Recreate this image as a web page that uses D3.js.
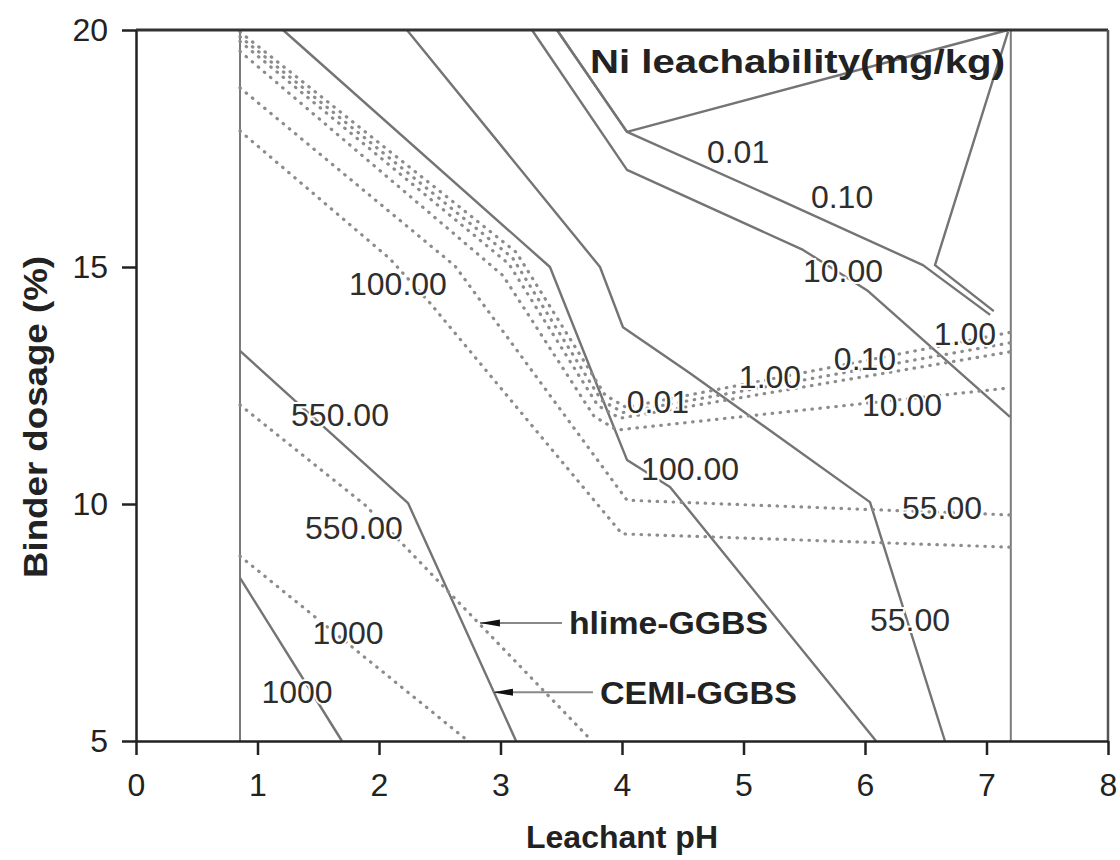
<!DOCTYPE html>
<html>
<head>
<meta charset="utf-8">
<script src="https://cdn.jsdelivr.net/npm/d3@7"></script>
<style>
body { margin: 0; background: #fff; }
svg { display: block; font-family: "Liberation Sans", Arial, sans-serif; }
</style>
</head>
<body>
<div class="js-vis"></div>
<script>
"use strict";

// pH limits of the tested range (vertical grey lines)
var phLimits = [0.856, 7.2];

// CEMI-GGBS contours (solid), points are [pH, binder %]
var cemi1000 = [[0.856, 8.44], [1.695, 5.0]];
var cemi550 = [[0.856, 13.23], [2.239, 10.02], [3.128, 5.0]];
var cemi100 = [[1.21, 20], [3.407, 15.0], [3.844, 12.19], [4.041, 10.93], [4.395, 10.36], [6.091, 5.0]];
var cemi55 = [[2.23, 20], [3.819, 15.0], [4.008, 13.73], [4.56, 12.76], [6.041, 10.04], [6.658, 5.0]];
var cemi10 = [[3.259, 20], [4.041, 17.05], [5.49, 15.36], [6.016, 14.51], [7.193, 11.84]];
var cemi001 = [[3.465, 20], [4.041, 17.85], [7.177, 20]];
var cemi010 = [[3.465, 20], [4.041, 17.85], [5.3, 16.41], [6.477, 15.04], [7.03, 13.99]];
var cemi1 = [[7.177, 19.96], [6.576, 15.04], [7.06, 14.07]];

// hlime-GGBS contours (dotted)
var hlime1000 = [[0.856, 8.90], [2.733, 5.0]];
var hlime550 = [[0.856, 12.09], [1.885, 9.98], [3.753, 5.0]];
var hlime100 = [[0.856, 17.87], [2.091, 15.17], [2.42, 14.24], [4.0, 9.37], [7.193, 9.09]];
var hlime55 = [[0.856, 18.78], [2.626, 15.02], [4.041, 10.08], [7.193, 9.77]];
var hlime10 = [[0.856, 19.55], [3.02, 14.82], [3.77, 11.85], [3.959, 11.56], [7.193, 12.45]];
var hlime001 = [[0.856, 19.76], [3.07, 15.06], [3.80, 12.08], [3.984, 11.81], [7.193, 13.21]];
var hlime010 = [[0.856, 19.86], [3.10, 15.19], [3.83, 12.19], [4.008, 11.93], [7.193, 13.40]];
var hlime1 = [[0.856, 19.96], [3.13, 15.31], [3.86, 12.30], [4.033, 12.04], [7.193, 13.62]];

// contour labels and where they sit [pH, binder %]
var cemiLabels = ["1000", "550.00", "100.00", "55.00", "10.00", "0.01", "0.10", "1.00"];
var cemiLabelPos = [[1.325, 6.05], [1.679, 11.88], [4.56, 10.74], [6.37, 7.57], [5.819, 14.92], [4.955, 17.43], [5.811, 16.48], [6.823, 13.59]];
var hlimeLabels = ["1000", "550.00", "100.00", "55.00", "10.00", "0.01", "1.00", "0.10"];
var hlimeLabelPos = [[1.745, 7.28], [1.794, 9.51], [2.156, 14.66], [6.634, 9.92], [6.305, 12.09], [4.296, 12.17], [5.218, 12.70], [6.0, 13.08]];

// series names with their arrows [from pH, to pH, binder %]
var seriesNames = ["hlime-GGBS", "CEMI-GGBS"];
var seriesArrows = [[3.506, 2.831, 7.49], [3.761, 2.938, 6.03]];

var xTicks = d3.range(0, 9),
    yTicks = [5, 10, 15, 20];

var cemiLines = [cemi1000, cemi550, cemi100, cemi55, cemi10, cemi001, cemi010, cemi1],
    hlimeLines = [hlime1000, hlime550, hlime100, hlime55, hlime10, hlime001, hlime010, hlime1];

var svg = d3.select(".js-vis").append("svg").attr("width", 1120).attr("height", 860);

var x = d3.scaleLinear().domain([0, 8]).range([136, 1108]);
var y = d3.scaleLinear().domain([5, 20]).range([741, 30]);

svg.append("defs").append("marker").attr("id", "arr").attr("viewBox", "0 0 20 8")
  .attr("refX", 0).attr("refY", 4).attr("markerUnits", "userSpaceOnUse")
  .attr("markerWidth", 20).attr("markerHeight", 8)
  .attr("orient", "auto")
  .append("path").attr("d", "M20,1L0,4L20,7z").attr("fill", "#111");

// test range boundaries
svg.append("g").selectAll("line").data(phLimits).enter().append("line")
  .attr("x1", function (d) { return x(d); }).attr("x2", function (d) { return x(d); })
  .attr("y1", y(20)).attr("y2", y(5))
  .attr("stroke", "#7a7a7a").attr("stroke-width", 2);

var line = d3.line().x(function (d) { return x(d[0]); }).y(function (d) { return y(d[1]); });

svg.append("g").selectAll("path").data(cemiLines).enter().append("path")
  .attr("d", line).attr("fill", "none")
  .attr("stroke", "#747474").attr("stroke-width", 2.4).attr("stroke-linejoin", "round");

svg.append("g").selectAll("path").data(hlimeLines).enter().append("path")
  .attr("d", line).attr("fill", "none")
  .attr("stroke", "#8c8c8c").attr("stroke-width", 3.2).attr("stroke-linecap", "round")
  .attr("stroke-dasharray", "0.5,7.5");

// contour labels
function drawLabels(names, pos) {
  svg.append("g").selectAll("text").data(names).enter().append("text")
    .attr("x", function (d, i) { return x(pos[i][0]); })
    .attr("y", function (d, i) { return y(pos[i][1]); })
    .attr("dy", "0.36em").attr("text-anchor", "middle")
    .attr("font-size", 32).attr("fill", "#2e2e2e")
    .attr("stroke", "#fff").attr("stroke-width", 4).attr("paint-order", "stroke")
    .text(function (d) { return d; });
}
drawLabels(cemiLabels, cemiLabelPos);
drawLabels(hlimeLabels, hlimeLabelPos);

// frame top and right
svg.append("line").attr("x1", x(0)).attr("x2", x(8)).attr("y1", y(20)).attr("y2", y(20))
  .attr("stroke", "#333").attr("stroke-width", 3);
svg.append("line").attr("x1", x(8)).attr("x2", x(8)).attr("y1", y(20)).attr("y2", y(5))
  .attr("stroke", "#555").attr("stroke-width", 2.5);

// axes
var minorX = d3.range(0, 40).filter(function (i) { return i % 5; }).map(function (i) { return i / 5; });
var minorY = d3.range(5, 21).filter(function (v) { return v % 5; });

var gx = svg.append("g").attr("transform", "translate(0," + y(5) + ")");
gx.call(d3.axisBottom(x).tickValues(minorX).tickSize(7).tickSizeOuter(0).tickFormat(""));
gx.call(d3.axisBottom(x).tickValues(xTicks).tickSize(14).tickSizeOuter(0).tickPadding(18).tickFormat(d3.format("d")));

var gy = svg.append("g").attr("transform", "translate(" + x(0) + ",0)");
gy.call(d3.axisLeft(y).tickValues(minorY).tickSize(7).tickSizeOuter(0).tickFormat(""));
gy.call(d3.axisLeft(y).tickValues(yTicks).tickSize(14).tickSizeOuter(0).tickPadding(14).tickFormat(d3.format("d")));

svg.selectAll(".domain").attr("stroke", "#222").attr("stroke-width", 2.5);
svg.selectAll(".tick line").attr("stroke", "#222").attr("stroke-width", 2.5);
svg.selectAll(".tick text").attr("font-size", 32).attr("fill", "#222")
  .attr("font-family", "'Liberation Sans', Arial, sans-serif");

// axis titles
svg.append("text").attr("x", 622).attr("y", 848).attr("text-anchor", "middle")
  .attr("font-size", 32).attr("font-weight", "bold").attr("fill", "#222")
  .text("Leachant pH");
svg.append("text").attr("transform", "translate(47,417) rotate(-90)").attr("text-anchor", "middle")
  .attr("font-size", 34).attr("font-weight", "bold").attr("fill", "#222")
  .attr("textLength", 322).attr("lengthAdjust", "spacingAndGlyphs")
  .text("Binder dosage (%)");

// chart title
svg.append("text").attr("x", 590).attr("y", 73)
  .attr("font-size", 34).attr("font-weight", "bold").attr("fill", "#222")
  .attr("textLength", 415).attr("lengthAdjust", "spacingAndGlyphs")
  .text("Ni leachability(mg/kg)");

// series annotations
var ann = svg.append("g").selectAll("g").data(seriesNames).enter().append("g");
ann.append("line")
  .attr("x1", function (d, i) { return x(seriesArrows[i][0]); })
  .attr("x2", function (d, i) { return x(seriesArrows[i][1]); })
  .attr("y1", function (d, i) { return y(seriesArrows[i][2]); })
  .attr("y2", function (d, i) { return y(seriesArrows[i][2]); })
  .attr("stroke", "#888").attr("stroke-width", 2);
ann.append("path")
  .attr("d", function (d, i) {
    var ax = x(seriesArrows[i][1]), ay = y(seriesArrows[i][2]);
    return "M" + ax + "," + ay + "L" + (ax + 20) + "," + (ay - 3.5) + "L" + (ax + 20) + "," + (ay + 3.5) + "Z";
  })
  .attr("fill", "#111");
ann.append("text")
  .attr("x", function (d, i) { return x(seriesArrows[i][0]) + 7; })
  .attr("y", function (d, i) { return y(seriesArrows[i][2]); })
  .attr("dy", "0.36em")
  .attr("font-size", 32).attr("font-weight", "bold").attr("fill", "#222")
  .attr("textLength", function (d, i) { return i ? 197 : 199; }).attr("lengthAdjust", "spacingAndGlyphs")
  .text(function (d) { return d; });
</script>
</body>
</html>
